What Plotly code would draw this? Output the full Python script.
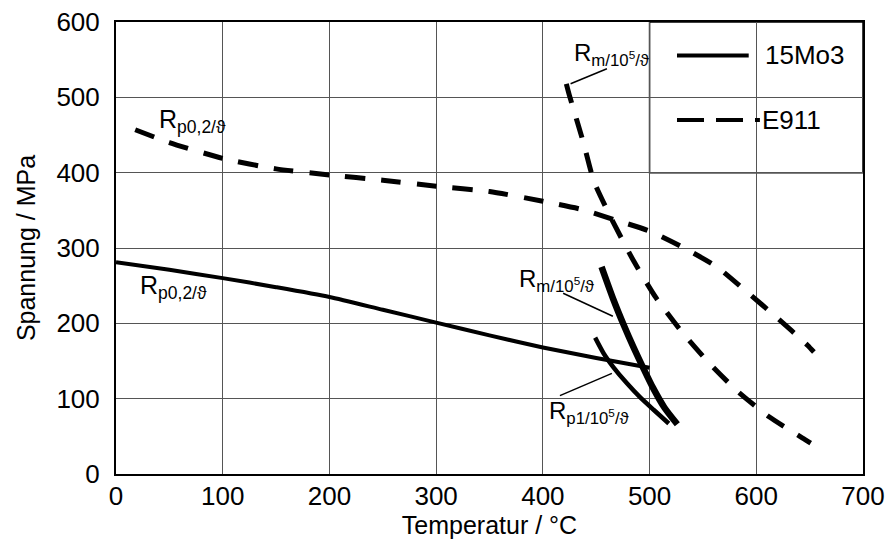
import plotly.graph_objects as go

# ---- data ----
t_mo3_rp02 = [0, 50, 100, 150, 200, 250, 300, 350, 400, 450, 500]
s_mo3_rp02 = [281, 271, 260, 248, 235, 218, 201, 184, 168, 154, 141]

t_mo3_rm = [455, 466, 476, 485, 494, 503, 514, 526]
s_mo3_rm = [275, 232, 197, 168, 141, 115, 88, 66]

t_mo3_rp1 = [449, 457, 466, 479, 491, 504, 518]
s_mo3_rp1 = [181, 160, 142, 120, 102, 85, 67]

t_e911_rp02 = [18, 50, 100, 150, 200, 250, 300, 350, 400, 437, 466, 499, 531, 563, 591, 619, 648, 654]
s_e911_rp02 = [457, 440, 419, 405, 397, 390, 382, 375, 362, 351, 338, 323, 301, 275, 242, 208, 171, 162]

t_e911_rm = [422, 425, 438, 448, 466, 485, 506, 530, 556, 583, 612, 643, 651]
s_e911_rm = [518, 502, 440, 388, 334, 283, 234, 189, 147, 109, 76, 48, 41]

x_ticks = [0, 100, 200, 300, 400, 500, 600, 700]
y_ticks = [0, 100, 200, 300, 400, 500, 600]

FONT = "Liberation Sans, Arial, sans-serif"
DASH = "20px,16px"

fig = go.Figure()

def add(t, s, width, dash="solid"):
    fig.add_trace(go.Scatter(x=t, y=s, mode="lines", showlegend=False,
                             line=dict(color="black", width=width, dash=dash,
                                       shape="spline", smoothing=0.6),
                             hoverinfo="skip"))

add(t_mo3_rp02, s_mo3_rp02, 4)
add(t_mo3_rm, s_mo3_rm, 6.5)
add(t_mo3_rp1, s_mo3_rp1, 4.5)
add(t_e911_rp02, s_e911_rp02, 5, DASH)
add(t_e911_rm, s_e911_rm, 5, DASH)

shapes = []
# legend box (covers grid in the top-right cell block)
shapes.append(dict(type="rect", xref="x", yref="y", x0=500, x1=700, y0=400, y1=600,
                   fillcolor="white", line=dict(color="black", width=1.5), layer="below"))
# legend samples
shapes.append(dict(type="line", xref="paper", yref="paper", x0=0.751, x1=0.847,
                   y0=0.926, y1=0.926, line=dict(color="black", width=4)))
shapes.append(dict(type="line", xref="paper", yref="paper", x0=0.751, x1=0.862,
                   y0=0.783, y1=0.783, line=dict(color="black", width=4, dash="27px,12px")))
# leader lines
for (xa, ya, xb, yb) in [(460, 538, 426, 518), (419, 240, 465.6, 209.4), (416, 104, 464.7, 133.5)]:
    shapes.append(dict(type="line", xref="x", yref="y", x0=xa, y0=ya, x1=xb, y1=yb,
                       line=dict(color="black", width=1.5)))

def lab(x, y, text, size=24):
    return dict(x=x, y=y, xref="x", yref="y", text=text, showarrow=False,
                xanchor="left", yanchor="middle", font=dict(family=FONT, size=size, color="black"))

annotations = [
    lab(38, 468, "R<sub>p0,2/ϑ</sub>", 25),
    lab(21, 248, "R<sub>p0,2/ϑ</sub>", 25),
    lab(427, 557, "R<sub>m/10<sup>5</sup>/ϑ</sub>"),
    lab(376, 257, "R<sub>m/10<sup>5</sup>/ϑ</sub>"),
    lab(404, 82, "R<sub>p1/10<sup>5</sup>/ϑ</sub>"),
    dict(x=0.8665, y=0.926, xref="paper", yref="paper", text="15Mo3", showarrow=False,
         xanchor="left", yanchor="middle", font=dict(family=FONT, size=26, color="black")),
    dict(x=0.8623, y=0.783, xref="paper", yref="paper", text="E911", showarrow=False,
         xanchor="left", yanchor="middle", font=dict(family=FONT, size=26, color="black")),
]

axis_common = dict(showgrid=True, gridcolor="#555555", gridwidth=1, zeroline=False,
                   showline=True, linecolor="black", linewidth=2, mirror=True,
                   ticks="", automargin=False,
                   tickfont=dict(family=FONT, size=26, color="black"),
                   title_font=dict(family=FONT, size=25, color="black"))

fig.update_layout(
    width=886, height=542,
    margin=dict(l=116, r=23, t=22, b=68),
    paper_bgcolor="white", plot_bgcolor="white",
    xaxis=dict(range=[0, 700], tickvals=x_ticks, title=dict(text="Temperatur / °C", standoff=0),
               ticklabelstandoff=-2, **axis_common),
    yaxis=dict(range=[0, 600], tickvals=y_ticks, title=dict(text="Spannung / MPa", standoff=14),
               ticklabelstandoff=9, **axis_common),
    shapes=shapes, annotations=annotations,
)

fig.write_html("out.html")
